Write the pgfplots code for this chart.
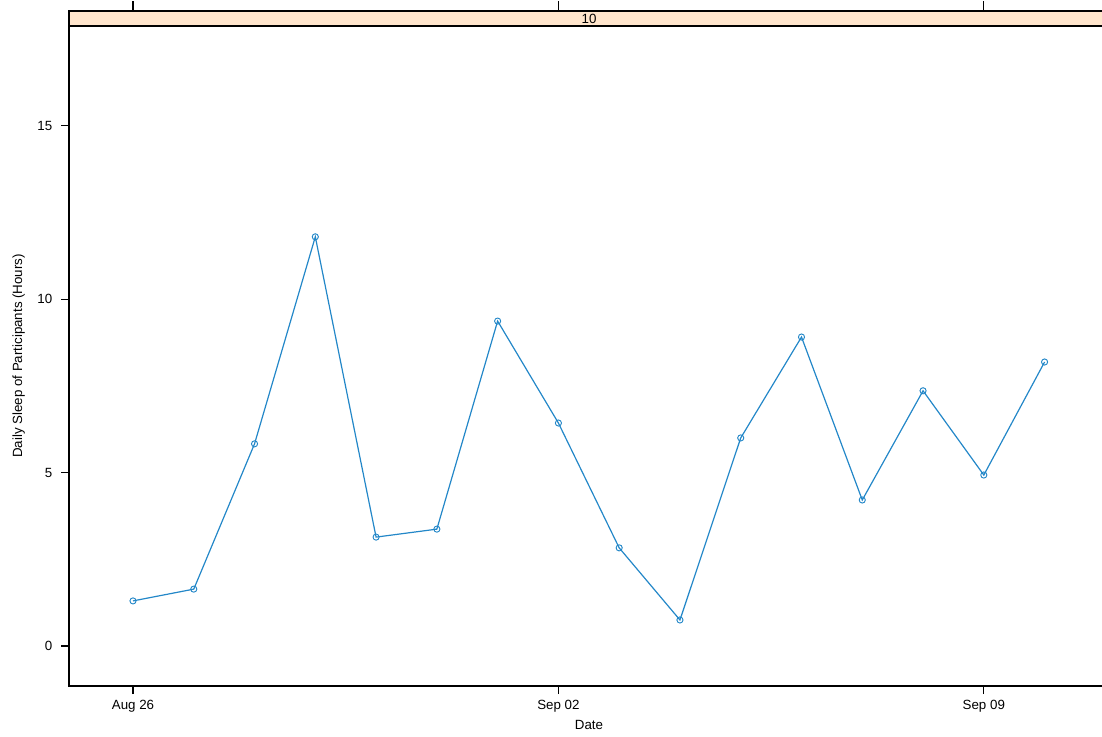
\documentclass[border=0pt]{standalone}
\usepackage{pgfplots}
\pgfplotsset{compat=1.18}
\usepackage{fontspec}
\setmainfont{Liberation Sans}
\definecolor{lineblue}{RGB}{35,135,200}
\definecolor{strip}{RGB}{255,229,204}
\begin{document}
\begin{tikzpicture}[x=1pt,y=1pt]
\path[use as bounding box, clip] (-51.75pt,-37.5pt) rectangle (774.75pt,514.5pt);
\begin{axis}[
  at={(0,0)}, anchor=south west,
  scale only axis,
  width=780pt, height=495pt,
  xmin=-1.053, xmax=16.06,
  ymin=-1.154, ymax=17.88,
  clip=false,
  axis line style={black, line width=0.8pt},
  xtick={0,7,14}, xticklabels={Aug 26,Sep 02,Sep 09},
  ytick={0,5,10,15},
  tick align=outside,
  xtick pos=bottom, ytick pos=left,
  major tick length=6pt,
  tick style={black, line width=0.8pt},
  /pgf/number format/assume math mode=true,
  tick label style={font=\fontsize{10}{12}\selectfont},
  xticklabel style={yshift=-1pt},
  yticklabel style={xshift=-3pt},
  xlabel={Date},
  ylabel={Daily Sleep of Participants (Hours)},
  label style={font=\fontsize{10}{12}\selectfont},
  xlabel style={yshift=1pt},
  ylabel style={yshift=2.5pt},
]
\addplot[lineblue, line width=0.9pt, mark=o, mark size=2.3pt, mark options={line width=0.7pt}] coordinates {
(0,1.30) (1,1.64) (2,5.83) (3,11.80) (4,3.14) (5,3.37) (6,9.37) (7,6.43)
(8,2.83) (9,0.75) (10,6.00) (11,8.91) (12,4.21) (13,7.36) (14,4.93) (15,8.19)
};
\draw[black, line width=0.8pt, fill=strip] (axis description cs:0,1) rectangle (axis description cs:1,1.0227);
\node[font=\fontsize{10}{12}\selectfont] at (axis description cs:0.5,1.0114) {10};
\draw[black, line width=0.8pt] (axis cs:0,18.31) -- (axis cs:0,18.60);
\draw[black, line width=0.8pt] (axis cs:7,18.31) -- (axis cs:7,18.60);
\draw[black, line width=0.8pt] (axis cs:14,18.31) -- (axis cs:14,18.60);
\end{axis}
\end{tikzpicture}
\end{document}
